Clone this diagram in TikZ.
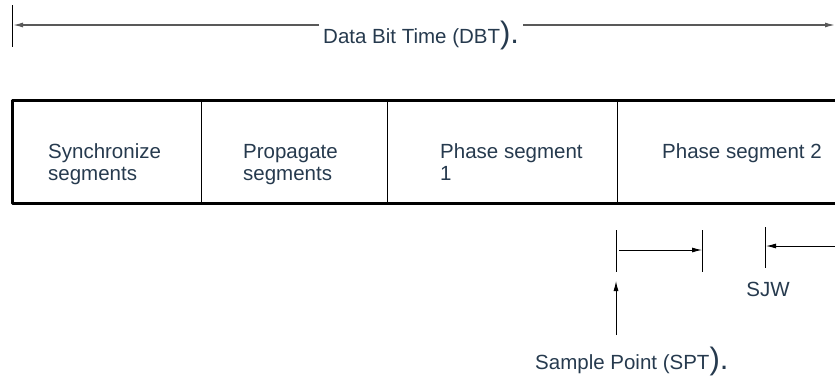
\documentclass[tikz,border=0pt]{standalone}
\usepackage{fontspec}
\setmainfont{Liberation Sans}
\usetikzlibrary{arrows.meta, positioning}
\definecolor{labelblue}{HTML}{263A4E}

\begin{document}
\begin{tikzpicture}[x=1pt, y=-1pt, line join=round]
        \useasboundingbox (0,0) rectangle (835,378);
        \tikzset{dim/.style={-{Latex[length=10pt, width=5pt]}, line width=0.9pt}}
        \tikzset{bar/.style={line width=0.9pt}}
        \tikzset{lbl/.style={text=labelblue, font=\fontsize{20.5}{22}\selectfont, inner sep=0pt, align=left}}
        % data bit time
        \coordinate (dbtL) at (13,25);
        \coordinate (dbtR) at (835,25);
        \draw[bar] (12,5) -- (12,47);
        \node[lbl, anchor=base west, inner xsep=4pt] (dbt) at (319,43)
                {Data Bit Time (DBT{\fontsize{31}{31}\selectfont).}};
        \draw[dim, black!65, line width=1.3pt] (dbt.west |- dbtL) -- (dbtL);
        \draw[dim, black!65, line width=1.3pt] (dbt.east |- dbtR) -- (dbtR);
        % segments
        \draw[line width=3pt] (835,100) -- (12,100) -- (12,203) -- (835,203);
        \foreach \x in {201, 387, 617} {
            \draw[line width=1pt] (\x,100) -- (\x,203);
        }
        \node[lbl, anchor=base west] (sync) at (48,180) {Synchronize\\segments};
        \node[lbl, anchor=base west] (prop) at (243,180) {Propagate\\segments};
        \node[lbl, anchor=base west] (phone) at (440,180) {Phase segment\\1};
        \node[lbl, anchor=base west] (phtwo) at (662,158) {Phase segment 2};
        % sample point
        \coordinate (spt) at (619,250);
        \coordinate (sptR) at (702,250);
        \draw[bar] (616,230) -- (616,272);
        \draw[bar] (702,230) -- (702,272);
        \draw[dim] (spt) -- (sptR);
        \coordinate (sptfoot) at (616,335);
        \coordinate (sptup) at (616,281);
        \draw[dim] (sptfoot) -- (sptup);
        \node[lbl, anchor=base west] (sptlbl) at (535,369)
                {Sample Point (SPT{\fontsize{31}{31}\selectfont).}};
        % resync jump width
        \coordinate (sjw) at (766,246);
        \coordinate (sjwR) at (835,246);
        \draw[bar] (765,227) -- (765,268);
        \draw[dim] (sjwR) -- (sjw);
        \node[lbl] (sjwlbl) at (768,289) {SJW};
    \end{tikzpicture}
\end{document}
